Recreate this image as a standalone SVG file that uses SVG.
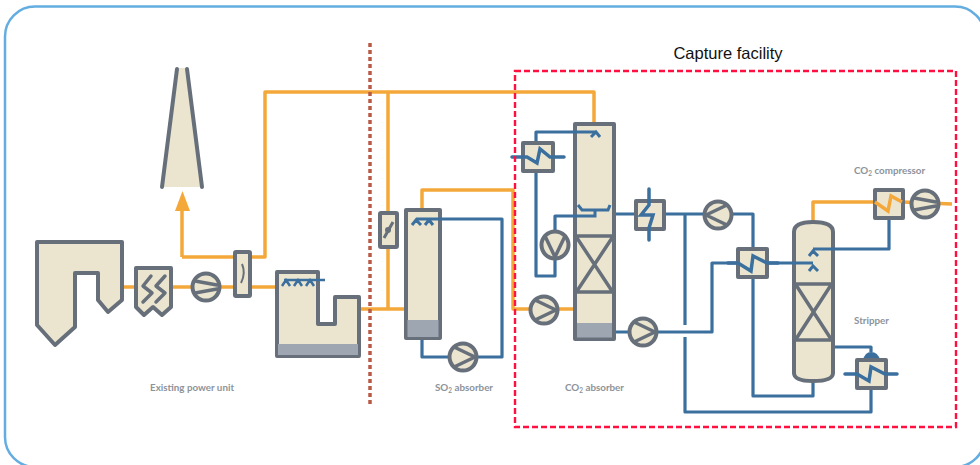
<svg xmlns="http://www.w3.org/2000/svg" width="980" height="465" viewBox="0 0 980 465">
<style>
.eq{fill:#ebe5d0;stroke:#67707a;stroke-width:4;stroke-linejoin:round}
.ln{fill:none;stroke:#67707a;stroke-width:3.5;stroke-linejoin:round;stroke-linecap:round}
.sump{fill:#9da6b1;stroke:none}
.or{fill:none;stroke:#f4a83a;stroke-width:3.5;stroke-linejoin:round}
.bl{fill:none;stroke:#3a6f9e;stroke-width:3.2;stroke-linejoin:round}
.blt{fill:none;stroke:#3a6f9e;stroke-width:3.5;stroke-linejoin:miter;stroke-linecap:round}
.lab{font-family:Lato,"Open Sans",sans-serif;font-size:9.800px;font-weight:700;fill:#8d939a}
.sub{font-size:6.500px}
</style>
<defs>
<g id="pump"><circle r="13.5" class="eq"/><path class="ln" d="M-9-10 12 0-9 10"/></g>
<g id="fan"><circle r="13.5" class="eq"/><path class="ln" d="M-11-6 11-2M-11 6 11 2"/></g>
</defs>
<rect x="5" y="6.500" width="980" height="460.500" rx="30" fill="#fff" stroke="#64ade0" stroke-width="2.500"/>
<g id="connectors">
<path class="or" d="M122 287H276M182 257V208M182 257H265V92H594V123M360 309H405M388 92V309M422 209V190H513V309H574M813 222V202H875M902 202 952 204"/>
<path class="bl" d="M422 339V357H502V219H422M536 171V276H555V216H595V208M536 142V132H595M614 214H635M664 214H753V249M685 214V325M685 337V412H871V389M753 278V396H813V380M614 332H712V263H738M767 263H813M889 219V249H813M833 347H871V352"/>
</g>
<g id="chimney"><path d="M177 68H187L202 187H162Z" fill="#ebe5d0"/><path d="M177 69 162 187M187 69 202 187" fill="none" stroke="#67707a" stroke-width="4" stroke-linecap="round"/></g>
<g id="chimney-arrow"><path d="M182.500 191 190 211H175Z" fill="#f4a83a"/></g>
<g id="boiler"><path class="eq" d="M37 242H122V300L108 312 98 300V273H75V327L55 345 37 325Z"/></g>
<g id="scr"><path class="eq" d="M136 268H171V307L162 315 153 307 144 315 136 307Z"/><path class="ln" d="M151 276 143 286 152 293 143 302M165 276 156 286 165 293 156 302"/></g>
<use id="fan1" href="#fan" x="206" y="287"/>
<g id="filter"><rect class="eq" x="235" y="252" width="15" height="44" rx="1"/><path fill="none" stroke="#67707a" stroke-width="2" d="M242 264Q246 273 241 283"/></g>
<g id="fgd"><path class="eq" d="M277 272H318V324H335V297H359V356H277Z"/><rect class="sump" x="278" y="344" width="80" height="11"/><path fill="none" stroke="#3a6f9e" stroke-width="2.500" d="M284 280H325M282 286 286 280 290 286M294 286 298 280 302 286M306 286 310 280 314 286"/></g>
<g id="damper"><rect class="eq" x="380" y="213" width="17" height="34" rx="1"/><path fill="none" stroke="#67707a" stroke-width="3" d="M393 222 384 238"/><circle cx="388" cy="230" r="3" fill="#67707a"/></g>
<g id="so2-absorber"><rect class="eq" x="406" y="210" width="34" height="128"/><rect class="sump" x="407.500" y="320" width="31" height="17"/><path fill="none" stroke="#3a6f9e" stroke-width="3" d="M412 225 416 220 421 225M425 225 429 220 433 225M416 219H442"/></g>
<use id="pump-so2" href="#pump" x="463" y="357"/>
<g id="co2-absorber"><rect class="eq" x="575" y="124" width="39" height="215"/><rect class="sump" x="577" y="323" width="35" height="14.500"/><path class="ln" stroke-width="3" d="M575 236H614M575 292H614M612 238 577 291M577 238 612 291"/><path fill="none" stroke="#3a6f9e" stroke-width="3" d="M578 205 582 210H608L610 205M591 137 596 132 600 137M573 132H596M573 216H595V210"/></g>
<use id="pump-flue" href="#pump" x="544" y="310"/>
<g id="hx-wash"><rect class="eq" x="523" y="143" width="30" height="28"/><path class="blt" d="M512 157H527L537 163 540 149 550 157H564"/></g>
<use id="pump-wash" href="#pump" transform="translate(555 245) rotate(90)"/>
<g id="hx-cooler"><rect class="eq" x="636" y="201" width="28" height="28"/><path class="blt" d="M649 189V205L641 215H653L649 228V240"/></g>
<use id="pump-rich" href="#pump" x="643" y="332"/>
<use id="pump-lean" href="#pump" transform="translate(718 215) rotate(180)"/>
<g id="hx-lean-rich"><rect class="eq" x="738" y="249" width="29" height="28"/><path class="blt" d="M728 263H738L751 271 753 256 767 263H778"/></g>
<g id="stripper"><path class="eq" d="M794 232Q794 222 813 222 833 222 833 232V373Q833 381 813 381 794 381 794 373Z"/><path class="ln" stroke-width="3" d="M795 284H832M795 340H832M796 285 831 339M831 285 796 339"/><path fill="none" stroke="#3a6f9e" stroke-width="3" d="M809 256 813 251 818 256M809 271 813 266 818 271M813 249H835M792 263H813"/></g>
<g id="hx-condenser"><rect class="eq" x="875" y="190" width="28" height="28"/><path fill="none" stroke="#f4a83a" stroke-width="3.500" d="M875 202 888 211 891 196 902 202"/></g>
<use id="compressor" href="#fan" x="925" y="204"/>
<g id="reboiler"><path d="M863 360Q865 352 871 352 878 352 880 360Z" fill="#3a6f9e"/><rect class="eq" x="857" y="360" width="29" height="28"/><path class="blt" d="M845 374H857L869 381 871 367 885 374H897"/></g>
<path id="boundary" d="M370 43V404" fill="none" stroke="#b85a46" stroke-width="3.500" stroke-dasharray="4 3"/>
<rect id="capture-box" x="515" y="71" width="441" height="356" fill="none" stroke="#ff1040" stroke-width="2.400" stroke-dasharray="6 3"/>
<text x="728" y="59" text-anchor="middle" font-family="Liberation Sans, sans-serif" font-size="16.500" fill="#111">Capture facility</text>
<text class="lab" x="150" y="391">Existing power unit</text>
<text class="lab" x="435" y="391">SO<tspan class="sub" dy="2">2</tspan><tspan dy="-2"> absorber</tspan></text>
<text class="lab" x="565" y="391">CO<tspan class="sub" dy="2">2</tspan><tspan dy="-2"> absorber</tspan></text>
<text class="lab" x="854" y="174">CO<tspan class="sub" dy="2">2</tspan><tspan dy="-2"> compressor</tspan></text>
<text class="lab" x="854" y="324">Stripper</text>
</svg>
